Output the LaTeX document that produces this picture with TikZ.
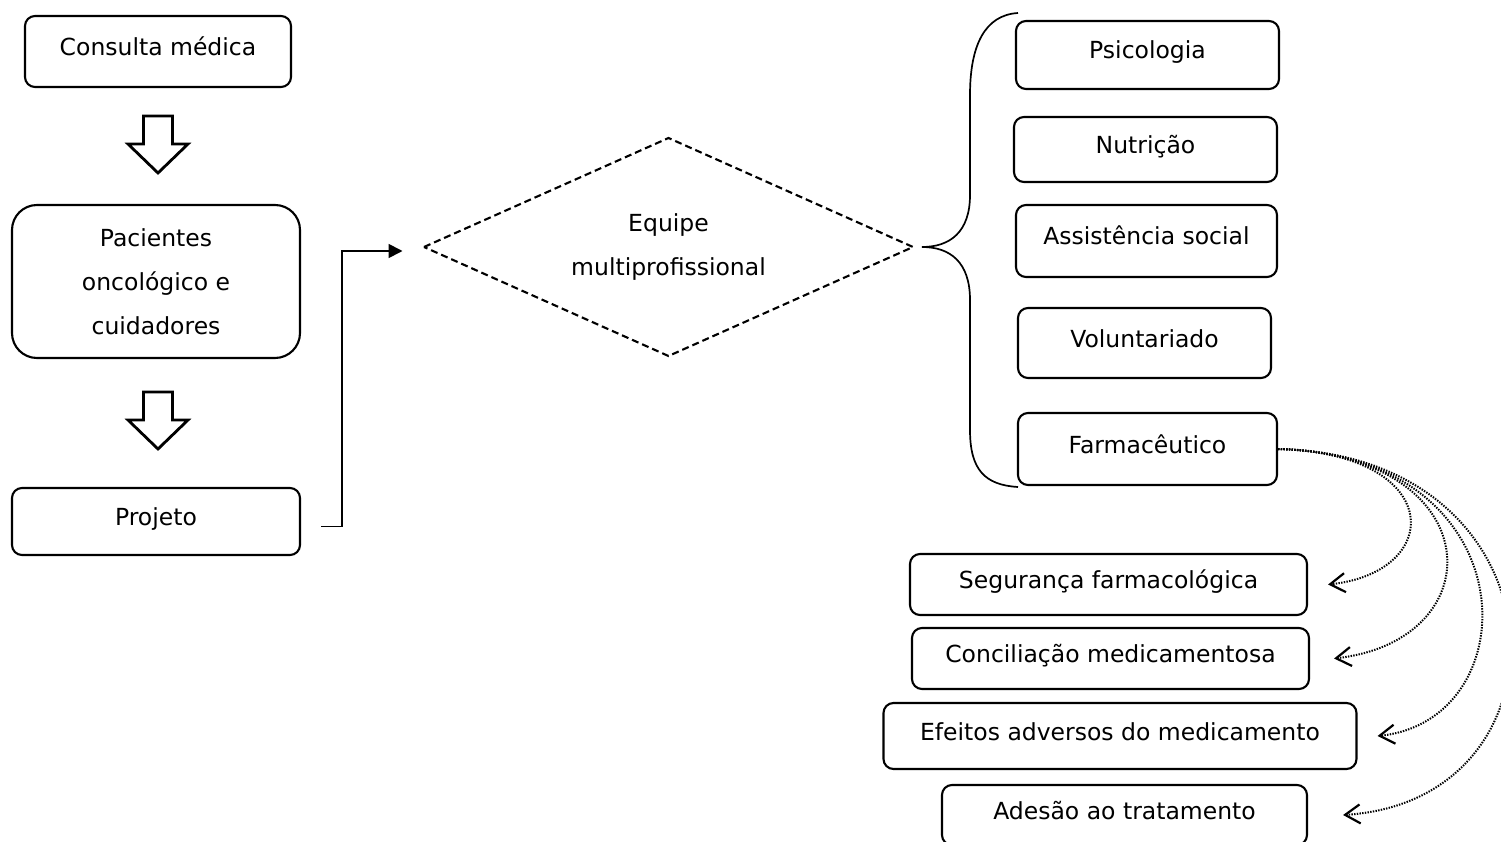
\documentclass[tikz,border=0pt]{standalone}
\usepackage{fontspec}
\setmainfont{DejaVu Sans}
\usetikzlibrary{arrows.meta}

\tikzset{
  box/.style={draw, line width=2.1pt, rounded corners=10pt, inner sep=0pt,
    text height=18pt, text depth=10pt},
  bigbox/.style={draw, line width=2.1pt, rounded corners=25pt, inner sep=0pt, align=center},
  blockarrow/.style={draw, line width=2.8pt, line join=miter},
  diamondline/.style={line width=2.1pt, dash pattern=on 7pt off 4pt},
  conn/.style={line width=1.8pt, -{Triangle[length=14pt,width=14pt]}},
  dotconn/.style={line width=2pt, dash pattern=on 1.4pt off 1.3pt,
    -{Straight Barb[length=15pt,width=19pt,line width=2.2pt]}},
}

\begin{document}
\begin{tikzpicture}[x=1pt, y=-1pt, font=\fontsize{23.5}{44}\selectfont]

  \useasboundingbox (0,0) rectangle (1501,842);
  \clip (0,0) rectangle (1501,842);

  %%-- LEFT COLUMN --%%
  \node[box, minimum width=266pt, minimum height=71pt] (cons) at (158,51.5) {Consulta médica};
  \node[bigbox, minimum width=288pt, minimum height=153pt] (pac) at (156,281.5)
    {Pacientes\\oncológico e\\cuidadores};
  \node[box, minimum width=288pt, minimum height=67pt] (proj) at (156,521.5) {Projeto};

  % hollow block arrows between the boxes
  \foreach \ya in {116, 392} {
    \draw[blockarrow] (143.5,\ya) -- (172.5,\ya) -- (172.5,\ya+28) -- (188,\ya+28)
      -- (158,\ya+57) -- (128,\ya+28) -- (143.5,\ya+28) -- cycle;
  }

  %%-- CENTRE: DASHED DIAMOND (489 x 218) --%%
  \node[align=center, inner sep=0pt] (diam) at (668.5,247) {Equipe\\multiprofissional};
  \draw[diamondline] ([xshift=-244.5pt]diam.center) -- ([yshift=109pt]diam.center)
    -- ([xshift=244.5pt]diam.center) -- ([yshift=-109pt]diam.center) -- cycle;

  % elbow connector Projeto -> diamond
  \draw[conn] ([xshift=20pt,yshift=-5pt]proj.east) -- ++(21,0)
    |- ([xshift=-266pt,yshift=-4pt]diam.center);

  %%-- BRACE (tip at x = 922) --%%
  \coordinate (brc) at (922,247);
  \draw[line width=1.7pt] (1018,13) .. controls (985,15) and (970,45) .. (970,95)
    -- (970,195) .. controls (970,232) and (950,247) .. (brc)
    .. controls (950,247) and (970,262) .. (970,300)
    -- (970,430) .. controls (970,470) and (985,485) .. (1018,487);

  %%-- RIGHT COLUMN: TEAM --%%
  \node[box, minimum width=263pt, minimum height=68pt] (psi)  at (1147.5,55)  {Psicologia};
  \node[box, minimum width=263pt, minimum height=65pt] (nut)  at (1145.5,149.5) {Nutrição};
  \node[box, minimum width=261pt, minimum height=72pt] (ass)  at (1146.5,241) {Assistência social};
  \node[box, minimum width=253pt, minimum height=70pt] (vol)  at (1144.5,343) {Voluntariado};
  \node[box, minimum width=259pt, minimum height=72pt] (farm) at (1147.5,449) {Farmacêutico};

  %%-- BOTTOM RIGHT: PHARMACIST TASKS --%%
  \node[box, minimum width=397pt, minimum height=61pt] (seg)  at (1108.5,584.5) {Segurança farmacológica};
  \node[box, minimum width=397pt, minimum height=61pt] (conc) at (1110.5,658.5) {Conciliação medicamentosa};
  \node[box, minimum width=473pt, minimum height=66pt] (efe)  at (1120,736)    {Efeitos adversos do medicamento};
  \node[box, minimum width=365pt, minimum height=60pt] (ade)  at (1124.5,815)  {Adesão ao tratamento};

  % dotted curved arrows from Farmacêutico
  \draw[dotconn] (farm.east) .. controls (1445,453) and (1445,572) .. ([xshift=20pt]seg.east);
  \draw[dotconn] (farm.east) .. controls (1490,455) and (1495,640) .. ([xshift=24pt]conc.east);
  \draw[dotconn] (farm.east) .. controls (1530,455) and (1530,720) .. ([xshift=20pt]efe.east);
  \draw[dotconn] (farm.east) .. controls (1570,455) and (1580,800) .. ([xshift=35pt]ade.east);

\end{tikzpicture}
\end{document}
